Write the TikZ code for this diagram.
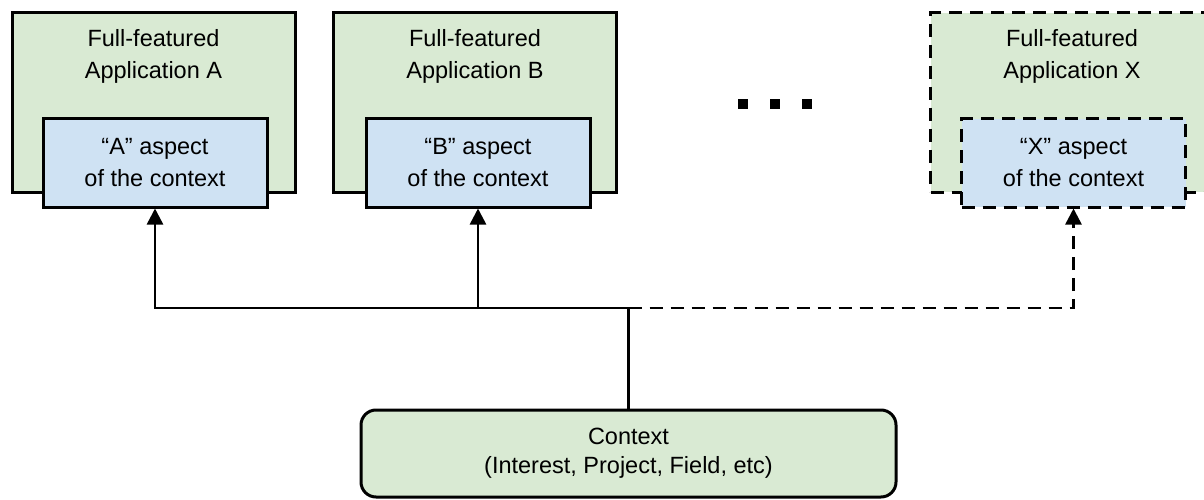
\documentclass[tikz,border=0pt]{standalone}
\usepackage{fontspec}
\setmainfont{Liberation Sans}
\usetikzlibrary{positioning,arrows.meta}
\definecolor{appgreen}{HTML}{D9EAD3}
\definecolor{aspblue}{HTML}{CFE2F3}
\begin{document}
\begin{tikzpicture}[
        x = 1pt, y = -1pt,
        font = \fontsize{23.5}{32}\selectfont,
        appbox/.style = {draw, fill=appgreen, line width=3pt, inner sep=0,
                         minimum width=283pt, minimum height=179pt},
        apptitle/.style = {align=center, inner sep=0},
        aspbox/.style = {draw, fill=aspblue, line width=3pt, align=center,
                         minimum width=224pt, minimum height=88pt},
        ctxbox/.style = {draw, fill=appgreen, line width=3pt, rounded corners=15pt,
                         align=center, minimum width=535pt, minimum height=87pt,
                         font=\fontsize{23.5}{29}\selectfont},
        link/.style = {line width=2.5pt, -{Triangle[length=16pt,width=16pt]}},
        maybe/.style = {dash pattern=on 13pt off 8pt},
      ]
      \clip (0,0) rectangle (1204,500);
      % applications
      \node[appbox] (appA) at (153.5,102.5) {};
      \node[apptitle, below=18pt of appA.north] (titleA) {Full-featured\\Application A};
      \node[aspbox] (aspA) at (155,163) {“A” aspect\\of the context};

      \node[appbox] (appB) at (475,102.5) {};
      \node[apptitle, below=18pt of appB.north] (titleB) {Full-featured\\Application B};
      \node[aspbox] (aspB) at (478,163) {“B” aspect\\of the context};

      \node[appbox, maybe] (appX) at (1072,102.5) {};
      \node[apptitle, below=18pt of appX.north] (titleX) {Full-featured\\Application X};
      \node[aspbox, maybe] (aspX) at (1073.5,163) {“X” aspect\\of the context};

      \foreach \x in {743,775,807}
        \fill (\x-5,99) rectangle ++(10,10);

      % context
      \node[ctxbox] (ctx) at (628.5,453.5) {Context\\(Interest, Project, Field, etc)};
      \draw[line width=2.5pt] (ctx.north) -- (ctx.north |- 0,308) coordinate (jn);
      \draw[link] (jn) -| (aspA.south);
      \draw[link] (jn) -| (aspB.south);
      \draw[link, maybe] (jn) -| (aspX.south);
\end{tikzpicture}
\end{document}
